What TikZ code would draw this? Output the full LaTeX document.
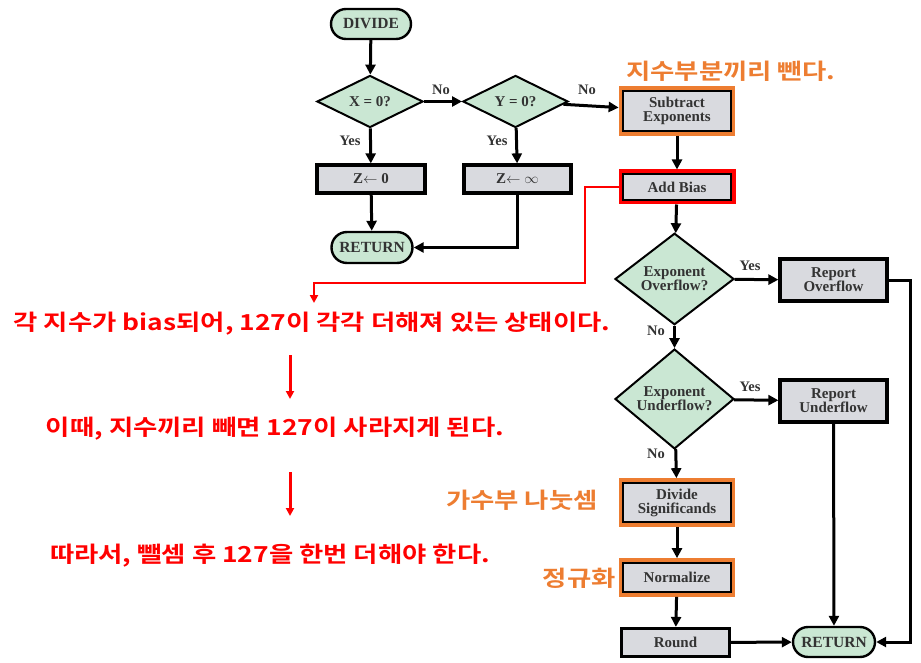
\documentclass[tikz,border=0pt]{standalone}
\usepackage{fontspec}
\setmainfont{Liberation Serif}
\newfontfamily\kr{Noto Sans CJK KR}[BoldFont={* Bold}]
\usetikzlibrary{shapes.geometric,shapes.misc,arrows.meta,fit,calc}
\definecolor{boxgray}{HTML}{D9DADF}
\definecolor{termgreen}{HTML}{CAE7D3}
\definecolor{hlorange}{HTML}{ED7D31}
\definecolor{txtgray}{HTML}{333333}
\newcommand{\krw}[1]{\scalebox{1.2}[1]{#1}}
\tikzset{
  procbox/.style={rectangle, draw=black, line width=3.2pt, fill=boxgray, inner sep=0pt,
    font=\fontsize{15}{16}\selectfont\bfseries, text=txtgray, align=center},
  decbox/.style={diamond, draw=black, line width=2pt, fill=termgreen, inner sep=0pt,
    font=\fontsize{15}{16}\selectfont\bfseries, text=txtgray, align=center},
  termbox/.style={rounded rectangle, draw=black, line width=2.4pt, fill=termgreen, inner sep=0pt,
    font=\fontsize{15.5}{16}\selectfont\bfseries, text=txtgray},
  arr/.style={line width=3pt, -{Triangle[length=10pt,width=10pt]}},
  lbl/.style={font=\fontsize{14.5}{15}\selectfont\bfseries, text=txtgray, inner sep=0pt},
  hlbox/.style={draw=hlorange, line width=3.5pt, inner sep=0.5pt},
  redbox/.style={draw=red, line width=3.8pt, inner sep=0.5pt},
  redarr/.style={draw=red, line width=2.4pt, -{Triangle[length=8pt,width=8pt]}},
  krred/.style={font=\kr\bfseries\fontsize{22}{24}\selectfont, text=red, inner sep=0pt},
  krorange/.style={font=\kr\bfseries\fontsize{22}{24}\selectfont, text=hlorange, inner sep=0pt}
}
\begin{document}
\begin{tikzpicture}[x=1pt,y=-1pt]
\useasboundingbox (0,0) rectangle (921,663);
% left part
\node[termbox, minimum width=80pt, minimum height=30pt] (div) at (371,24) {DIVIDE};
\node[decbox, minimum width=106pt, minimum height=45pt] (xz) at (370,101.5) {X = 0?};
\node[decbox, minimum width=105pt, minimum height=45pt] (yz) at (515.5,101.5) {Y = 0?};
\node[procbox, minimum width=108pt, minimum height=28pt] (z0) at (371,179) {Z$\leftarrow$ 0};
\node[procbox, minimum width=107pt, minimum height=28pt] (zi) at (517.5,179) {Z$\leftarrow\infty$};
\node[termbox, minimum width=81pt, minimum height=31pt] (ret1) at (372,247.5) {RETURN};
% right column
\node[procbox, minimum width=109pt, minimum height=42pt] (sub) at (677,111) {Subtract\\[-2pt]Exponents};
\node[procbox, minimum width=109pt, minimum height=27pt] (bias) at (677,187) {Add Bias};
\node[decbox, minimum width=119pt, minimum height=78pt] (ovf) at (674.5,279) {Exponent\\[-2pt]Overflow?};
\node[procbox, minimum width=107pt, minimum height=42pt] (rovf) at (833.5,280) {Report\\[-2pt]Overflow};
\node[decbox, minimum width=119pt, minimum height=78pt] (udf) at (674.5,399) {Exponent\\[-2pt]Underflow?};
\node[procbox, minimum width=107pt, minimum height=42pt] (rudf) at (833.5,401) {Report\\[-2pt]Underflow};
\node[procbox, minimum width=109pt, minimum height=41pt] (dsig) at (677,502.5) {Divide\\[-2pt]Significands};
\node[procbox, minimum width=109pt, minimum height=31pt] (norm) at (677,577.5) {Normalize};
\node[procbox, minimum width=108pt, minimum height=28pt] (rnd) at (675.5,642.5) {Round};
\node[termbox, minimum width=82pt, minimum height=30pt] (ret2) at (834,642) {RETURN};
% highlights
\node[hlbox, fit=(sub)] (hsub) {};
\node[redbox, fit=(bias)] (hbias) {};
\node[hlbox, fit=(dsig)] (hdsig) {};
\node[hlbox, fit=(norm)] (hnorm) {};
% connectors
\draw[arr] (div) -- (xz);
\draw[arr] (xz) -- (yz);
\draw[arr] (yz) -- (hsub);
\draw[arr] (xz) -- (z0);
\draw[arr] (yz) -- (zi);
\draw[arr] (z0) -- (ret1);
\draw[arr] (zi.south) |- (ret1.east);
\draw[arr] (hsub) -- (hbias);
\draw[arr] (hbias) -- (ovf);
\draw[arr] (ovf) -- (rovf);
\draw[arr] (ovf) -- (udf);
\draw[arr] (udf) -- (rudf);
\draw[arr] (udf) -- (hdsig);
\draw[arr] (hdsig) -- (hnorm);
\draw[arr] (hnorm) -- (rnd);
\draw[arr] (rnd) -- (ret2);
\draw[arr] (rudf) -- (ret2);
\coordinate (cr) at (910,280);
\draw[arr] (rovf.east) -- (cr) |- (ret2.east);
% labels
\node[lbl] at (441,90) {No};
\node[lbl] at (587,90) {No};
\node[lbl] at (350,141) {Yes};
\node[lbl] at (497,141) {Yes};
\node[lbl] at (750,266) {Yes};
\node[lbl] at (656,331) {No};
\node[lbl] at (750,387) {Yes};
\node[lbl] at (656,454) {No};
% annotations
\node[krorange, anchor=west] (o1) at (626,71) {\krw{지수부분끼리 뺀다.}};
\node[krorange, anchor=east] (o2) at (598,500) {\krw{가수부 나눗셈}};
\node[krorange, anchor=east] (o3) at (616,578) {\krw{정규화}};
\node[krred] (t1) at (312,324) {\krw{각 지수가 bias되어, 127이 각각 더해져 있는 상태이다.}};
\node[krred] (t2) at (275,429) {\krw{이때, 지수끼리 빼면 127이 사라지게 된다.}};
\node[krred] (t3) at (270,556) {\krw{따라서, 뺄셈 후 127을 한번 더해야 한다.}};
\coordinate (rc) at (585,283);
\coordinate (rt) at (314,303);
\draw[redarr] (hbias.west) -| (rc) -| (rt);
\coordinate (a1s) at (290,355);
\coordinate (a1e) at (290,399);
\coordinate (a2s) at (290,472);
\coordinate (a2e) at (290,516);
\draw[redarr, line width=3pt] (a1s) -- (a1e);
\draw[redarr, line width=3pt] (a2s) -- (a2e);
\end{tikzpicture}
\end{document}
